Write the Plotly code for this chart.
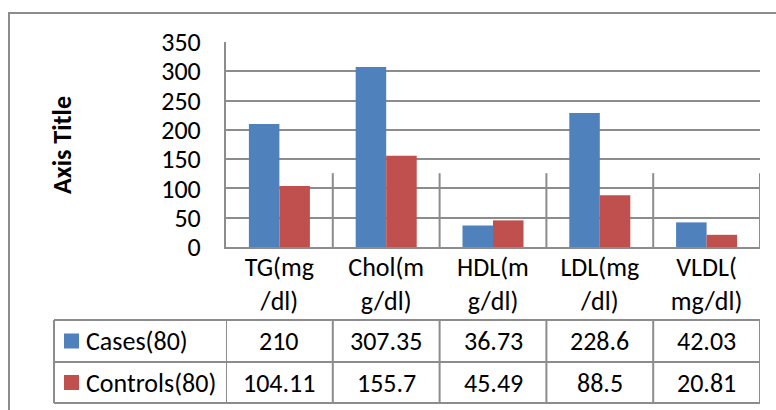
import plotly.graph_objects as go

# Lipid profile: cases vs controls
categories = ["TG(mg/dl)", "Chol(mg/dl)", "HDL(mg/dl)", "LDL(mg/dl)", "VLDL(mg/dl)"]
tick_labels = ["TG(mg<br>/dl)", "Chol(m<br>g/dl)", "HDL(m<br>g/dl)", "LDL(mg<br>/dl)", "VLDL(<br>mg/dl)"]
series_names = ["Cases(80)", "Controls(80)"]
cases = [210, 307.35, 36.73, 228.6, 42.03]
controls = [104.11, 155.7, 45.49, 88.5, 20.81]
value_labels = [["210", "307.35", "36.73", "228.6", "42.03"],
                ["104.11", "155.7", "45.49", "88.5", "20.81"]]

BLUE = "#4F81BD"
RED = "#C0504D"
GRID = "#8C8C8C"
FONT = "Carlito, Calibri, Lato, sans-serif"
FS = 26

W, H = 776, 410
ML, MR, MT, MB = 226, 16, 42, 163
PW = W - ML - MR
PH = H - MT - MB


def px(p):
    return (p - ML) / PW


def py(p):
    return (H - MB - p) / PH


fig = go.Figure()
fig.add_trace(go.Bar(x=categories, y=cases, name=series_names[0], marker_color=BLUE,
                     marker_line_width=0))
fig.add_trace(go.Bar(x=categories, y=controls, name=series_names[1], marker_color=RED,
                     marker_line_width=0))

shapes = []
# outer chart frame
shapes.append(dict(type="rect", xref="paper", yref="paper",
                   x0=px(9), x1=px(800), y0=py(13), y1=py(440),
                   line=dict(color=GRID, width=2), layer="below"))
# category divider ticks inside the plot
for i in range(len(categories)):
    shapes.append(dict(type="line", xref="x", yref="y", x0=i + 0.5, x1=i + 0.5,
                       y0=0, y1=126, line=dict(color=GRID, width=2)))
# data table grid
row_lines = [320, 362, 403]
for r in row_lines:
    shapes.append(dict(type="line", xref="paper", yref="paper", x0=px(54), x1=1,
                       y0=py(r), y1=py(r), line=dict(color=GRID, width=2)))
shapes.append(dict(type="line", xref="paper", yref="paper", x0=px(54), x1=px(54),
                   y0=py(320), y1=py(403), line=dict(color=GRID, width=2)))
for i in range(len(categories) + 1):
    shapes.append(dict(type="line", xref="x", yref="paper", x0=i - 0.5, x1=i - 0.5,
                       y0=py(320), y1=py(403), line=dict(color=GRID, width=2)))

annotations = []
row_centers = [341, 382.5]
colors = [BLUE, RED]
for k, name in enumerate(series_names):
    yc = row_centers[k]
    shapes.append(dict(type="rect", xref="paper", yref="paper",
                       x0=px(64), x1=px(79), y0=py(yc - 7.5), y1=py(yc + 7.5),
                       fillcolor=colors[k], line=dict(width=0)))
    annotations.append(dict(text=name, xref="paper", yref="paper", x=px(84), y=py(yc),
                            xanchor="left", yanchor="middle", showarrow=False,
                            font=dict(family=FONT, size=FS, color="black")))
    for i, cat in enumerate(categories):
        annotations.append(dict(text=value_labels[k][i], xref="x", yref="paper",
                                x=cat, y=py(yc), xanchor="center", yanchor="middle",
                                showarrow=False,
                                font=dict(family=FONT, size=FS, color="black")))

annotations.append(dict(text="<b>Axis Title</b>", xref="paper", yref="paper",
                        x=px(62), y=py(145), textangle=-90, showarrow=False,
                        xanchor="center", yanchor="middle",
                        font=dict(family=FONT, size=FS, color="black")))

fig.update_layout(
    width=W, height=H,
    margin=dict(l=ML, r=MR, t=MT, b=MB, autoexpand=False),
    paper_bgcolor="white", plot_bgcolor="white",
    barmode="group", bargap=1.5 / 3.5, bargroupgap=0,
    showlegend=False,
    font=dict(family=FONT, size=FS, color="black"),
    shapes=shapes, annotations=annotations,
)
fig.update_xaxes(type="category", tickmode="array", tickvals=categories,
                 ticktext=tick_labels, showgrid=False, ticks="",
                 showline=True, linecolor=GRID, linewidth=2, ticklabelstandoff=-4,
                 tickfont=dict(family=FONT, size=FS), range=[-0.5, 4.5])
fig.update_yaxes(range=[0, 350], dtick=50, showgrid=True, gridcolor=GRID, gridwidth=2,
                 showline=True, linecolor=GRID, linewidth=2, ticks="",
                 ticklabelstandoff=18, zeroline=False,
                 tickfont=dict(family=FONT, size=FS))

fig.write_html("out.html")
